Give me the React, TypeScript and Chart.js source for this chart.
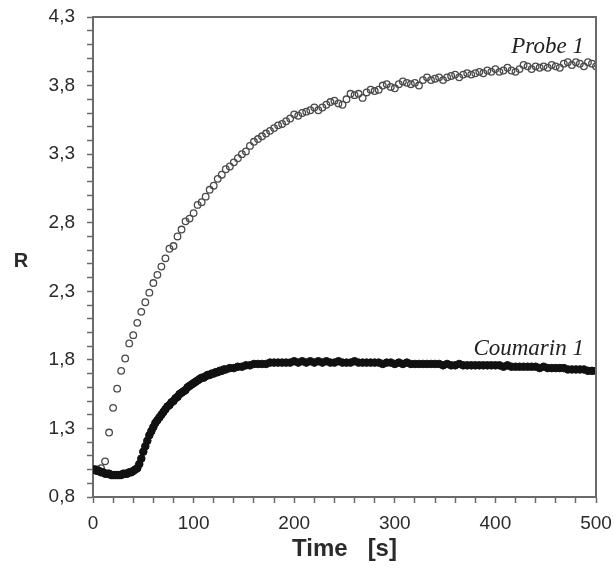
import { useEffect, useRef } from 'react';
import { Chart, registerables } from 'chart.js';

Chart.register(...registerables);

// Probe 1: sampled every 4 s from 0 to 500 s
const probeStep = 4;
const probeR = [
  1.00, 1.00, 1.01, 1.06, 1.27, 1.45, 1.59, 1.72, 1.81, 1.92,
  1.98, 2.07, 2.15, 2.22, 2.29, 2.36, 2.42, 2.48, 2.54, 2.61,
  2.63, 2.70, 2.75, 2.81, 2.83, 2.87, 2.93, 2.95, 2.99, 3.04,
  3.07, 3.12, 3.15, 3.19, 3.21, 3.24, 3.27, 3.30, 3.32, 3.36,
  3.39, 3.41, 3.43, 3.45, 3.47, 3.49, 3.51, 3.52, 3.54, 3.56,
  3.59, 3.58, 3.60, 3.61, 3.62, 3.64, 3.62, 3.64, 3.66, 3.68,
  3.69, 3.67, 3.66, 3.70, 3.74, 3.73, 3.74, 3.71, 3.75, 3.77,
  3.76, 3.77, 3.80, 3.81, 3.79, 3.78, 3.81, 3.83, 3.82, 3.81,
  3.82, 3.80, 3.84, 3.86, 3.84, 3.85, 3.86, 3.84, 3.86, 3.87,
  3.88, 3.86, 3.88, 3.89, 3.88, 3.89, 3.90, 3.89, 3.91, 3.90,
  3.92, 3.90, 3.91, 3.93, 3.91, 3.90, 3.92, 3.95, 3.94, 3.92,
  3.94, 3.93, 3.94, 3.93, 3.95, 3.94, 3.93, 3.96, 3.97, 3.95,
  3.97, 3.96, 3.94, 3.97, 3.96, 3.94,
];

// Coumarin 1: every 2 s from 0 to 130 s, then every 4 s from 132 to 500 s
const coumarinEarlyStep = 2;
const coumarinEarlyR = [
  1.00, 1.00, 0.99, 0.99, 0.98, 0.98, 0.97, 0.97, 0.97, 0.96,
  0.96, 0.96, 0.96, 0.96, 0.96, 0.97, 0.97, 0.97, 0.98, 0.98,
  0.99, 1.00, 1.01, 1.04, 1.08, 1.13, 1.17, 1.21, 1.25, 1.28,
  1.31, 1.34, 1.36, 1.38, 1.40, 1.42, 1.44, 1.46, 1.47, 1.49,
  1.50, 1.52, 1.53, 1.55, 1.56, 1.57, 1.58, 1.60, 1.61, 1.62,
  1.63, 1.64, 1.65, 1.66, 1.67, 1.67, 1.68, 1.69, 1.69, 1.70,
  1.70, 1.71, 1.71, 1.72, 1.72, 1.73,
];
const coumarinLateStart = 132;
const coumarinLateStep = 4;
const coumarinLateR = [
  1.73, 1.74, 1.74, 1.75, 1.75, 1.76, 1.76, 1.77, 1.77, 1.77,
  1.77, 1.78, 1.78, 1.78, 1.78, 1.78, 1.78, 1.79, 1.78, 1.79,
  1.78, 1.79, 1.78, 1.79, 1.78, 1.79, 1.78, 1.78, 1.79, 1.78,
  1.78, 1.78, 1.79, 1.78, 1.78, 1.78, 1.78, 1.78, 1.78, 1.77,
  1.78, 1.78, 1.77, 1.78, 1.77, 1.78, 1.77, 1.77, 1.77, 1.77,
  1.77, 1.77, 1.77, 1.77, 1.76, 1.77, 1.76, 1.76, 1.77, 1.76,
  1.76, 1.76, 1.76, 1.76, 1.76, 1.76, 1.76, 1.76, 1.76, 1.75,
  1.76, 1.75, 1.75, 1.75, 1.75, 1.75, 1.75, 1.75, 1.74, 1.75,
  1.74, 1.74, 1.74, 1.74, 1.74, 1.73, 1.73, 1.73, 1.73, 1.73,
  1.72, 1.72, 1.72,
];

// Axes
const xMin = 0;
const xMax = 500;
const xMinorStep = 20;
const xMajorStep = 100;
const yMin = 0.8;
const yMax = 4.3;
const yMinorStep = 0.1;
const yMajorStep = 0.5;

// Series labels and their anchor (data coords, right-aligned text baseline)
const probeLabel = 'Probe 1';
const probeLabelAt = { x: 488, y: 4.038 };
const coumarinLabel = 'Coumarin 1';
const coumarinLabelAt = { x: 488, y: 1.835 };
const xTitle = 'Time   [s]';
const yTitle = 'R';

const SANS = '"Liberation Sans", Arial, Helvetica, sans-serif';
const SERIF = '"Liberation Serif", "Times New Roman", serif';
const AXIS = '#6a6a6a';
const TEXT = '#2a2a2a';

const zeroPad = (s: any) => {
  s.paddingTop = 0;
  s.paddingBottom = 0;
  s.paddingLeft = 0;
  s.paddingRight = 0;
};

export default function App() {
  const ref = useRef<HTMLCanvasElement | null>(null);

  useEffect(() => {
    if (!ref.current) return;

    const probeData = probeR.map((r, i) => ({ x: i * probeStep, y: r }));
    const coumarinData = [
      ...coumarinEarlyR.map((r, i) => ({ x: i * coumarinEarlyStep, y: r })),
      ...coumarinLateR.map((r, i) => ({ x: coumarinLateStart + i * coumarinLateStep, y: r })),
    ];

    const decor = {
      id: 'decor',
      afterDraw(chart: any) {
        const { ctx, chartArea, scales } = chart;
        ctx.save();
        // top & right frame
        ctx.strokeStyle = AXIS;
        ctx.lineWidth = 2;
        ctx.beginPath();
        ctx.moveTo(chartArea.left, chartArea.top);
        ctx.lineTo(chartArea.right, chartArea.top);
        ctx.lineTo(chartArea.right, chartArea.bottom);
        ctx.stroke();
        // y title (upright)
        ctx.fillStyle = TEXT;
        ctx.font = `bold 20px ${SANS}`;
        ctx.textAlign = 'center';
        ctx.textBaseline = 'middle';
        ctx.fillText(yTitle, 21, 261);
        // series labels
        ctx.font = `italic 23px ${SERIF}`;
        ctx.textAlign = 'right';
        ctx.textBaseline = 'alphabetic';
        ctx.fillStyle = '#222';
        ctx.fillText(probeLabel, scales.x.getPixelForValue(probeLabelAt.x), scales.y.getPixelForValue(probeLabelAt.y));
        ctx.fillText(coumarinLabel, scales.x.getPixelForValue(coumarinLabelAt.x), scales.y.getPixelForValue(coumarinLabelAt.y));
        ctx.restore();
      },
    };

    const chart = new Chart(ref.current, {
      type: 'scatter',
      data: {
        datasets: [
          {
            label: coumarinLabel,
            data: coumarinData,
            pointStyle: 'circle',
            pointRadius: 3.8,
            pointBorderWidth: 1,
            pointBackgroundColor: '#111',
            pointBorderColor: '#111',
            showLine: false,
          },
          {
            label: probeLabel,
            data: probeData,
            pointStyle: 'circle',
            pointRadius: 3.3,
            pointBorderWidth: 1.3,
            pointBackgroundColor: 'rgba(0,0,0,0)',
            pointBorderColor: '#4a4a4a',
            showLine: false,
          },
        ],
      },
      options: {
        animation: false,
        responsive: false,
        maintainAspectRatio: false,
        layout: { padding: { left: 0, right: 18, top: 17, bottom: 0 } },
        plugins: {
          legend: { display: false },
          tooltip: { enabled: false },
        },
        scales: {
          x: {
            type: 'linear',
            min: xMin,
            max: xMax,
            afterFit: (s: any) => { s.height = 71; zeroPad(s); },
            border: { display: true, color: AXIS, width: 2 },
            grid: {
              display: true,
              drawOnChartArea: false,
              drawTicks: true,
              tickLength: 6,
              tickWidth: 1.5,
              tickColor: AXIS,
            },
            ticks: {
              stepSize: xMinorStep,
              autoSkip: false,
              maxRotation: 0,
              padding: 9,
              color: TEXT,
              font: { family: SANS, size: 19 },
              callback: (v: any) => (Math.round(Number(v)) % xMajorStep === 0 ? String(Math.round(Number(v))) : ''),
            },
            title: {
              display: true,
              text: xTitle,
              color: TEXT,
              font: { family: SANS, size: 24, weight: 'bold' },
              padding: { top: 0, bottom: 4 },
            },
          },
          y: {
            type: 'linear',
            min: yMin,
            max: yMax,
            afterFit: (s: any) => { s.width = 93; zeroPad(s); },
            border: { display: true, color: AXIS, width: 2 },
            grid: {
              display: true,
              drawOnChartArea: false,
              drawTicks: true,
              tickLength: 6,
              tickWidth: 1.5,
              tickColor: AXIS,
            },
            ticks: {
              stepSize: yMinorStep,
              autoSkip: false,
              padding: 12,
              color: TEXT,
              font: { family: SANS, size: 19 },
              callback: (v: any) => {
                const tenth = Math.round(Number(v) * 10);
                const k = tenth - Math.round(yMin * 10);
                return k % Math.round(yMajorStep * 10) === 0 ? (tenth / 10).toFixed(1).replace('.', ',') : '';
              },
            },
          },
        },
      },
      plugins: [decor],
    });

    return () => chart.destroy();
  }, []);

  return (
    <div style={{ position: 'fixed', left: 0, top: 0, width: 614, height: 568, background: '#fff' }}>
      <canvas ref={ref} width={614} height={568} style={{ width: 614, height: 568, display: 'block' }} />
    </div>
  );
}
